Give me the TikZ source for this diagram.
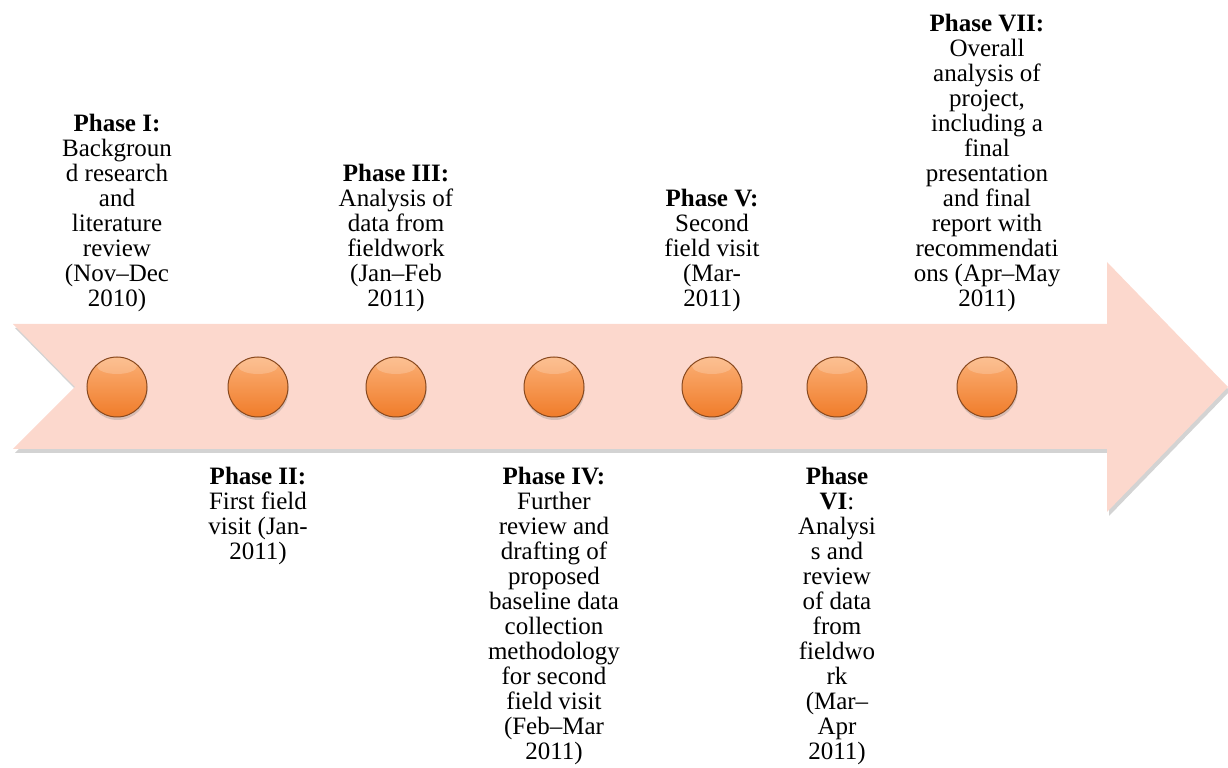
\documentclass[tikz,border=0pt]{standalone}
\usepackage{fontspec}
\setmainfont{Liberation Serif}
\usetikzlibrary{positioning,shadows}
\definecolor{ArrowPink}{RGB}{252,216,205}
\definecolor{DotTop}{RGB}{251,176,118}
\definecolor{DotBottom}{RGB}{240,124,42}
\definecolor{DotRim}{RGB}{135,72,30}

\begin{document}
\begin{tikzpicture}[x=0.5pt,y=0.5pt,
node distance=24.5pt,
dot/.style={circle,minimum size=30pt,inner sep=0pt,draw=DotRim,line width=0.5pt,
top color=DotTop,bottom color=DotBottom,
drop shadow={shadow xshift=0.3pt,shadow yshift=-1.5pt,opacity=.3},
path picture={\fill[white,opacity=.2] ([yshift=-4.5pt]path picture bounding box.north) ellipse (10pt and 4pt);}},
phase/.style={align=center,inner sep=0pt,font=\fontsize{12.5}{12.5}\selectfont}
]
\useasboundingbox (0,0) rectangle (1228,767);
\fill[ArrowPink,drop shadow={shadow xshift=1pt,shadow yshift=-2pt,opacity=.35}]
(13,443) -- (1107,443) -- (1107,505) -- (1228,380) -- (1107,255) -- (1107,318) -- (13,318) -- (75,380) -- cycle;
\node[dot] (p1) at (117,380) {};
\node[dot] (p2) at (258,380) {};
\node[dot] (p3) at (396,380) {};
\node[dot] (p4) at (554,380) {};
\node[dot] (p5) at (712,380) {};
\node[dot] (p6) at (837,380) {};
\node[dot] (p7) at (987,380) {};
\node[phase,above=22pt of p1] (t1) {\textbf{Phase I:}\\Backgroun\\d research\\and\\literature\\review\\(Nov–Dec\\2010)};
\node[phase,below=of p2] (t2) {\textbf{Phase II:}\\First field\\visit (Jan-\\2011)};
\node[phase,above=22pt of p3] (t3) {\textbf{Phase III:}\\Analysis of\\data from\\fieldwork\\(Jan–Feb\\2011)};
\node[phase,below=of p4] (t4) {\textbf{Phase IV:}\\Further\\review and\\drafting of\\proposed\\baseline data\\collection\\methodology\\for second\\field visit\\(Feb–Mar\\2011)};
\node[phase,above=22pt of p5] (t5) {\textbf{Phase V:}\\Second\\field visit\\(Mar-\\2011)};
\node[phase,below=of p6] (t6) {\textbf{Phase}\\\textbf{VI}:\\Analysi\\s and\\review\\of data\\from\\fieldwo\\rk\\(Mar–\\Apr\\2011)};
\node[phase,above=22pt of p7] (t7) {\textbf{Phase VII:}\\Overall\\analysis of\\project,\\including a\\final\\presentation\\and final\\report with\\recommendati\\ons (Apr–May\\2011)};
\end{tikzpicture}
\end{document}
